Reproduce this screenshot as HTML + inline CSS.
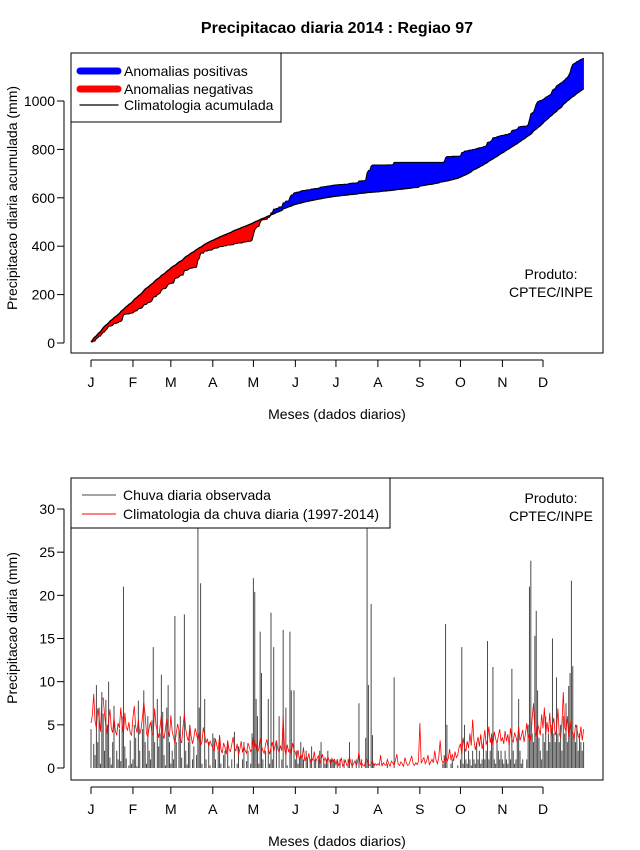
<!DOCTYPE html>
<html><head><meta charset="utf-8"><style>
body{margin:0;background:#fff}
svg{display:block;font-family:"Liberation Sans",sans-serif}
</style></head><body>
<svg id="chart" width="640" height="850" viewBox="0 0 640 850" xmlns="http://www.w3.org/2000/svg">
<rect width="640" height="850" fill="#fff"/>
<text x="337" y="33" font-size="16" font-weight="bold" text-anchor="middle">Precipitacao diaria 2014 : Regiao 97</text>
<g id="topPanel"></g>
<g id="botPanel"></g>
</svg>
<script>
const monthLabels=["J","F","M","A","M","J","J","A","S","O","N","D"];
const monthStartDays=[0,31,59,90,120,151,181,212,243,273,304,334];
const topTicks=[0,200,400,600,800,1000];
const botTicks=[0,5,10,15,20,25,30];
const obsDaily=[
4.5,0,2.8,1.5,9.6,3,7,0.5,8.8,6.3,2,7.9,5,10,1.2,0.4,3,7.2,0,2,1,4.5,0.8,6,21,2.5,1.1,0,0.3,3.2,0.5,
1,5,3.5,0.2,7.8,2,0,4.5,9,3,0.5,6,2,1,5.5,14,3,0,8,2.5,4,10.8,6.5,1.5,0.3,7,9.6,3,
0.5,2,1,17.6,3,0,4.5,6,1.2,0,17.8,2,0.4,3,5,0,1,2.5,0,1.5,28.7,7,21.4,0.5,0,8,1,0,3,0.3,0,
4,3.5,1,0,2,3.8,0.5,0,1.5,2,0,3,0.2,0,1,0,4.2,0,0.5,2.5,0,0,1,3,0,0.8,2,0,0.5,4,
22,20.4,8,6,0.5,15.8,11,1,0,2,0,8,0.5,18,1,14,0,3,0,6,0,1,16,0,7,0.3,0,15.8,9,0,9,
1,2,0.5,1,3,1.5,1,0,2,1,0,1,2.5,0,1,1,0,1,2,3,0,1,0.5,1,2,0,1,1,1,0.8,
0,1,0,1,0,0,1,0,0,1,3,0,1,0,0,1,0,7.5,0,1,0,0,3.5,28.7,9.6,0,19,3.8,0.5,0,0,
0,0,0,0,0,0,0,0.5,0,0,0,0,10.5,0,0,0,0,0,0,0,0,0,0,0,0,0,0,0,0,0,0,
0,0,0,0,0,0,0,0,0,0,0,0,0,0,0,0,0,0.5,1.5,16.7,5,0,0,0.5,1,0,0,0,0.3,0,
1,14,0.5,5,1,0.5,2,1,0.3,2,1,0.5,3,1,2,0.5,1,3,1,2,14.7,1,2,4,11.7,1,0.5,3,2,1,2,
1,0.5,2,1,0.5,3,1,11.5,2,0.5,1,3,8,2,0.5,1,0,0,1,5,21,24,4,3,15.3,18.2,9,3.5,2,1,
4,3,6,2,4,3,5,15,4,3,10.5,4,3,5,2,6,4,7.5,3,9.5,11,21.7,11.8,4,3,5,2,4,3,2,3];
const climDaily=[
5.2,6.1,8.6,5.4,4.6,6.9,5.8,4.2,7.9,8.1,6.2,4.8,3.9,5.5,6.8,4.6,4.1,5.9,4.3,3.8,5.2,4.6,7.0,5.1,3.9,6.4,4.7,4.4,5.3,4.0,3.8,
5.9,7.2,4.8,4.1,5.6,3.9,4.5,5.8,7.6,6.2,4.0,3.6,4.7,5.3,4.1,3.8,6.9,5.0,4.2,3.5,4.8,6.1,3.9,3.4,4.5,5.7,4.3,3.6,
6.1,4.2,3.6,2.8,4.0,5.1,4.4,3.3,2.9,4.8,6.3,4.5,3.6,3.1,4.9,3.7,2.8,3.5,4.6,3.9,3.2,4.1,2.6,3.0,4.7,3.8,2.9,3.4,2.5,3.1,2.7,
2.3,1.9,3.4,2.6,2.0,3.8,2.2,1.7,2.9,2.4,1.6,3.2,2.1,1.9,2.7,3.6,2.3,2.0,2.8,1.5,2.2,3.1,1.8,2.5,2.0,1.7,2.9,2.4,1.9,2.2,
3.6,2.4,2.9,1.8,2.2,3.5,2.6,2.0,1.7,2.8,3.3,2.1,1.6,2.4,3.0,1.9,2.5,3.2,2.2,1.8,2.6,2.0,6.0,2.3,1.5,2.7,1.9,2.2,1.6,2.9,2.1,
1.8,1.2,2.1,0.9,1.5,1.1,2.4,0.8,1.3,1.0,1.7,0.6,1.2,0.9,1.9,0.7,1.1,1.4,0.5,1.0,1.6,0.8,1.2,0.6,1.3,0.9,0.5,1.1,0.7,1.0,
0.4,1.0,0.3,0.6,1.2,0.2,0.5,0.9,0.3,0.4,1.3,0.6,0.2,0.5,0.8,0.3,0.7,1.9,0.4,0.6,0.3,0.2,0.9,1.1,0.5,0.3,0.4,0.8,0.2,0.5,0.3,
0.5,0.3,1.5,0.2,0.6,0.4,0.3,1.0,0.5,0.2,0.8,0.6,0.3,0.9,1.6,0.4,0.3,0.7,0.5,0.2,1.2,0.6,0.3,0.4,0.9,1.4,0.5,0.3,0.6,0.4,0.8,
5.2,0.6,0.9,1.2,0.5,0.8,1.5,0.4,0.7,1.0,0.6,2.0,0.9,0.5,1.3,3.2,1.0,0.6,0.8,1.4,0.7,1.1,2.2,0.9,1.6,0.8,1.9,1.2,1.5,2.4,
2.8,1.6,3.5,2.4,1.9,3.1,2.3,4.0,2.6,5.6,3.2,2.1,2.8,3.6,2.5,3.9,2.2,3.0,4.4,2.7,3.3,4.8,2.9,3.8,2.6,4.2,3.4,2.8,3.7,4.5,3.1,
3.5,2.8,4.3,3.1,3.9,2.7,4.6,3.3,3.0,4.1,3.6,2.9,4.8,3.2,3.7,4.4,3.0,3.9,5.2,3.4,4.0,3.1,5.8,7.5,4.2,3.6,5.1,4.5,3.8,6.2,
4.6,7.0,3.9,5.3,4.1,6.4,3.6,4.9,5.8,3.8,4.4,6.9,4.0,3.5,5.2,8.8,4.7,4.2,6.0,3.6,5.5,4.3,3.9,3.3,5.0,4.6,3.7,3.4,4.8,3.2,4.5];

const NS="http://www.w3.org/2000/svg";
function mk(p,t,a,txt){const e=document.createElementNS(NS,t);for(const k in a)e.setAttribute(k,a[k]);if(txt!==undefined)e.textContent=txt;p.appendChild(e);return e;}
const xd=d=>91+d*(452/334);
const yTop=v=>343-v*0.242;
const yBot=v=>768-v*(259/30);

const cumObs=[],cumClim=[];let so=0,sc=0;
for(let i=0;i<obsDaily.length;i++){so+=obsDaily[i];sc+=(climDaily[i]||0);cumObs.push(so);cumClim.push(sc);}

function axes(g,yBox,yFn,ticks,ytitle,yTitleY,xTitleY){
  const box=mk(g,'rect',{x:71,y:yBox[0],width:532,height:yBox[1]-yBox[0],fill:'none',stroke:'#000'});
  
  
  const xb=mk(g,'g',{});
  
  
  mk(xb,'line',{x1:xd(0),x2:xd(334),y1:yBox[1]+7,y2:yBox[1]+7,stroke:'#000'});
  monthStartDays.forEach((d,i)=>{
    mk(xb,'line',{x1:xd(d),x2:xd(d),y1:yBox[1]+7,y2:yBox[1]+14,stroke:'#000'});
    const t=mk(xb,'text',{x:xd(d),y:yBox[1]+34,'font-size':14,'text-anchor':'middle'},monthLabels[i]);
    
    
  });
  const yb=mk(g,'g',{});
  
  
  mk(yb,'line',{x1:64,x2:64,y1:yFn(ticks[0]),y2:yFn(ticks[ticks.length-1]),stroke:'#000'});
  ticks.forEach(v=>{
    mk(yb,'line',{x1:57,x2:64,y1:yFn(v),y2:yFn(v),stroke:'#000'});
    const t=mk(yb,'text',{x:55,y:yFn(v)+5,'font-size':14,'text-anchor':'end'},String(v));
    
    
  });
  const yt=mk(g,'text',{x:0,y:0,'font-size':14,'text-anchor':'middle',transform:`translate(17,${yTitleY}) rotate(-90)`},ytitle);
  
  
  const xt=mk(g,'text',{x:337,y:xTitleY,'font-size':14,'text-anchor':'middle'},'Meses (dados diarios)');
  
  
}

// TOP
const topG=document.getElementById('topPanel');
const fills=mk(topG,'g',{});


for(let i=0;i<cumObs.length-1;i++){
  const pos=(cumObs[i]+cumObs[i+1])>(cumClim[i]+cumClim[i+1]);
  const p=mk(fills,'polygon',{points:`${xd(i)},${yTop(cumObs[i])} ${xd(i+1)},${yTop(cumObs[i+1])} ${xd(i+1)},${yTop(cumClim[i+1])} ${xd(i)},${yTop(cumClim[i])}`,fill:pos?'#0000ff':'#ff0000',stroke:pos?'#0000ff':'#ff0000','stroke-width':0.6});
  
  
}
const obsLine=mk(topG,'polyline',{points:cumObs.map((v,i)=>`${xd(i)},${yTop(v)}`).join(' '),fill:'none',stroke:'#000','stroke-width':1});


const climLine=mk(topG,'polyline',{points:cumClim.map((v,i)=>`${xd(i)},${yTop(v)}`).join(' '),fill:'none',stroke:'#000','stroke-width':1.3});


axes(topG,[53,353],yTop,topTicks,'Precipitacao diaria acumulada (mm)',198,419);
const lg=mk(topG,'g',{});


mk(lg,'rect',{x:71,y:53,width:210,height:69,fill:'#fff',stroke:'#000'});
[['#0000ff',7,'Anomalias positivas',71],['#ff0000',7,'Anomalias negativas',89],['#000',1.3,'Climatologia acumulada',105]].forEach(e=>{
  const it=mk(lg,'g',{});
  
  
  mk(it,'line',{x1:80,x2:118,y1:e[3],y2:e[3],stroke:e[0],'stroke-width':e[1],'stroke-linecap':'round'});
  mk(it,'text',{x:124,y:e[3]+5,'font-size':14},e[2]);
});
const p1=mk(topG,'text',{x:551,y:279,'font-size':14,'text-anchor':'middle'},'Produto:');


const p2=mk(topG,'text',{x:551,y:297,'font-size':14,'text-anchor':'middle'},'CPTEC/INPE');



// BOTTOM
const botG=document.getElementById('botPanel');
const bars=mk(botG,'g',{});


obsDaily.forEach((v,i)=>{
  if(v<=0)return;
  const b=mk(bars,'line',{x1:xd(i),x2:xd(i),y1:yBot(0),y2:yBot(v),stroke:'#4a4a4a','stroke-width':1});
  
  
});
const cl=mk(botG,'polyline',{points:climDaily.map((v,i)=>`${xd(i)},${yBot(v)}`).join(' '),fill:'none',stroke:'#ff0000','stroke-width':0.8});


axes(botG,[478,780],yBot,botTicks,'Precipitacao diaria (mm)',628,846);
const lg2=mk(botG,'g',{});


mk(lg2,'rect',{x:71,y:478,width:319,height:50,fill:'#fff',stroke:'#000'});
[['#4a4a4a','Chuva diaria observada',495],['#ff0000','Climatologia da chuva diaria (1997-2014)',514]].forEach(e=>{
  const it=mk(lg2,'g',{});
  
  
  mk(it,'line',{x1:82,x2:116,y1:e[2],y2:e[2],stroke:e[0],'stroke-width':1});
  mk(it,'text',{x:123,y:e[2]+5,'font-size':14},e[1]);
});
const p3=mk(botG,'text',{x:551,y:503,'font-size':14,'text-anchor':'middle'},'Produto:');


const p4=mk(botG,'text',{x:551,y:521,'font-size':14,'text-anchor':'middle'},'CPTEC/INPE');


</script>
</body></html>
